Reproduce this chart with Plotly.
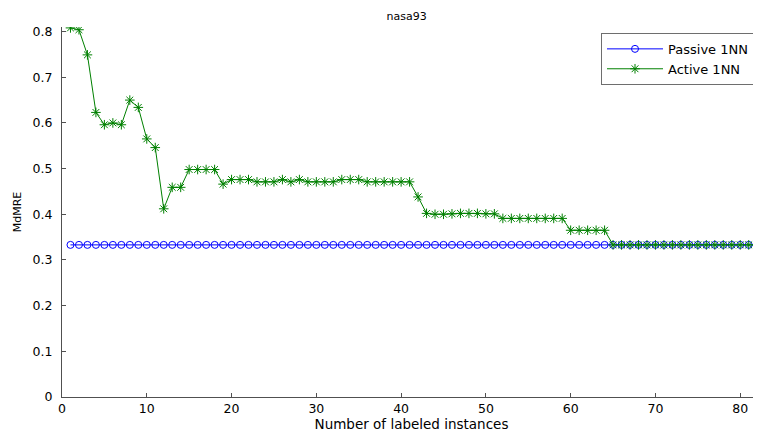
import plotly.graph_objects as go

x_vals = list(range(1, 83))
passive = [0.333] * 82
active = [0.808, 0.804, 0.749, 0.623, 0.596, 0.600, 0.596, 0.650, 0.634, 0.565,
          0.546, 0.412, 0.459, 0.459, 0.498, 0.498, 0.498, 0.498, 0.466, 0.476,
          0.476, 0.476, 0.471, 0.471, 0.471, 0.476, 0.471, 0.476, 0.471, 0.471,
          0.471, 0.471, 0.476, 0.476, 0.476, 0.471, 0.471, 0.471, 0.471, 0.471,
          0.471, 0.438, 0.402, 0.400, 0.400, 0.401, 0.402, 0.402, 0.402, 0.401,
          0.401, 0.391, 0.391, 0.391, 0.391, 0.391, 0.391, 0.391, 0.391, 0.365,
          0.365, 0.365, 0.365, 0.365, 0.333] + [0.333] * 17
x_ticks = [0, 10, 20, 30, 40, 50, 60, 70, 80]
y_ticks = [0, 0.1, 0.2, 0.3, 0.4, 0.5, 0.6, 0.7, 0.8]
y_tick_labels = ["0", "0.1", "0.2", "0.3", "0.4", "0.5", "0.6", "0.7", "0.8"]

font = "DejaVu Sans, Liberation Sans, Arial, sans-serif"

fig = go.Figure()
fig.add_trace(go.Scatter(
    x=x_vals, y=passive, mode="lines+markers", name="Passive 1NN",
    line=dict(color="rgb(0,0,255)", width=1),
    marker=dict(symbol="circle-open", size=7, color="rgb(0,0,255)",
                line=dict(width=1, color="rgb(0,0,255)")),
))
fig.add_trace(go.Scatter(
    x=x_vals, y=active, mode="lines+markers", name="Active 1NN",
    line=dict(color="rgb(0,128,0)", width=1),
    marker=dict(symbol="asterisk-open", size=8, color="rgb(0,128,0)",
                line=dict(width=1, color="rgb(0,128,0)")),
))

# page body adds an 8px offset; figure sized to fit the visible window
fig.update_layout(
    width=753, height=426,
    margin=dict(l=54, r=0, t=19, b=37, autoexpand=False),
    paper_bgcolor="white", plot_bgcolor="white",
    font=dict(family=font, size=12.5, color="black"),
    title=dict(text="nasa93", x=0.493, xanchor="center", xref="paper",
               y=0.982, yref="container", yanchor="middle",
               font=dict(size=11, family=font, color="black")),
    showlegend=True,
    legend=dict(x=0.99, y=0.984, xanchor="right", yanchor="top",
                bgcolor="white", bordercolor="rgb(110,110,110)", borderwidth=1,
                font=dict(size=13, family=font), tracegroupgap=0,
                itemwidth=56),
)
fig.update_xaxes(
    range=[0, 82.45], tickvals=x_ticks, ticks="inside", ticklen=4,
    tickcolor="rgb(80,80,80)", showline=True, linecolor="rgb(80,80,80)",
    linewidth=1, showgrid=False, zeroline=False, automargin=False,
    title=dict(text="Number of labeled instances", standoff=0,
               font=dict(size=13.5, family=font)),
    tickfont=dict(size=12.5, family=font),
)
fig.update_yaxes(
    range=[0, 0.81], tickvals=y_ticks, ticktext=y_tick_labels, ticks="inside",
    ticklen=4, tickcolor="rgb(80,80,80)", showline=True,
    linecolor="rgb(80,80,80)", linewidth=1, showgrid=False, zeroline=False,
    automargin=False, ticklabelstandoff=6,
    title=dict(text="MdMRE", standoff=8, font=dict(size=11, family=font)),
    tickfont=dict(size=12.5, family=font),
)

fig.write_html("out.html")
